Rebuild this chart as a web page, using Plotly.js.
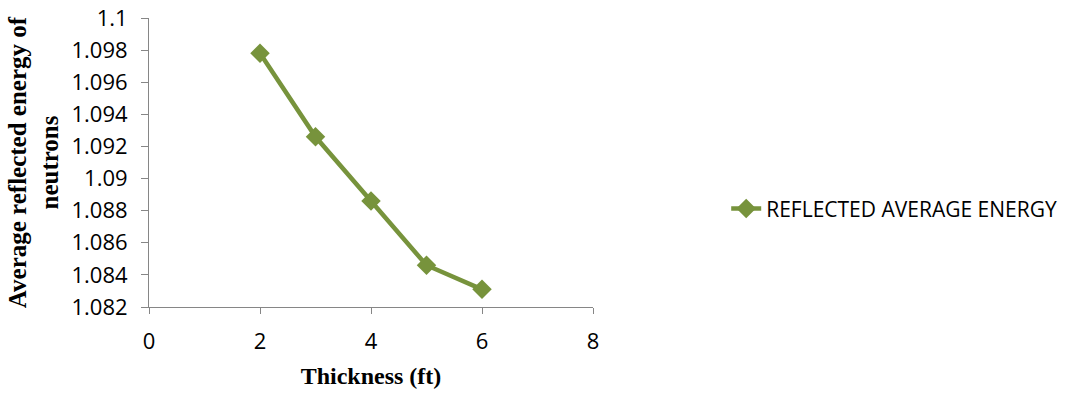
<!DOCTYPE html>
<html>
<head>
<meta charset="utf-8">
<script src="https://cdn.plot.ly/plotly-3.0.1.min.js"></script>
<style>html,body{margin:0;padding:0;background:#fff;}#chart{width:1075px;height:394px;}</style>
</head>
<body>
<div id="chart"></div>
<script>
const thickness = [2, 3, 4, 5, 6];
const reflectedEnergy = [1.0978, 1.0926, 1.0886, 1.0846, 1.0831];
const seriesName = 'REFLECTED AVERAGE ENERGY';
const yTickVals = [1.082, 1.084, 1.086, 1.088, 1.09, 1.092, 1.094, 1.096, 1.098, 1.1];
const yTickText = ['1.082', '1.084', '1.086', '1.088', '1.09', '1.092', '1.094', '1.096', '1.098', '1.1'];
const xTickVals = [0, 2, 4, 6, 8];
const xTickText = ['0', '2', '4', '6', '8'];

const green = '#77933C';
const axisGray = '#868686';
const tickFont = {family: '"Open Sans", sans-serif', size: 22, color: '#000'};

const trace = {
  x: thickness,
  y: reflectedEnergy,
  type: 'scatter',
  mode: 'lines+markers',
  name: seriesName,
  line: {color: green, width: 4.5},
  marker: {symbol: 'diamond', size: 15, color: green}
};

const layout = {
  width: 1075,
  height: 394,
  margin: {l: 149, r: 482, t: 18, b: 87},
  paper_bgcolor: '#fff',
  plot_bgcolor: '#fff',
  showlegend: true,
  legend: {
    x: 1.30, y: 0.34, xanchor: 'left', yanchor: 'middle',
    font: {family: '"Open Sans", sans-serif', size: 21, color: '#000'},
    bgcolor: 'rgba(0,0,0,0)'
  },
  xaxis: {
    range: [0, 8],
    tickvals: xTickVals,
    ticktext: xTickText,
    showgrid: false,
    zeroline: false,
    showline: true,
    linecolor: axisGray,
    linewidth: 1,
    ticks: 'outside',
    ticklen: 6,
    tickcolor: axisGray,
    tickfont: tickFont,
    ticklabelstandoff: 9,
    title: {text: '<b>Thickness (ft)</b>', font: {family: '"Liberation Serif", "Times New Roman", serif', size: 24, color: '#000'}, standoff: 12}
  },
  yaxis: {
    range: [1.082, 1.1],
    tickvals: yTickVals,
    ticktext: yTickText,
    showgrid: false,
    zeroline: false,
    showline: true,
    linecolor: axisGray,
    linewidth: 1,
    ticks: 'outside',
    ticklen: 7,
    tickcolor: axisGray,
    tickfont: tickFont,
    ticklabelstandoff: 9,
    title: {text: '<b>Average reflected energy of<br>neutrons</b>', font: {family: '"Liberation Serif", "Times New Roman", serif', size: 25, color: '#000'}, standoff: 5}
  }
};

Plotly.newPlot('chart', [trace], layout, {displayModeBar: false, staticPlot: true});
</script>
</body>
</html>
